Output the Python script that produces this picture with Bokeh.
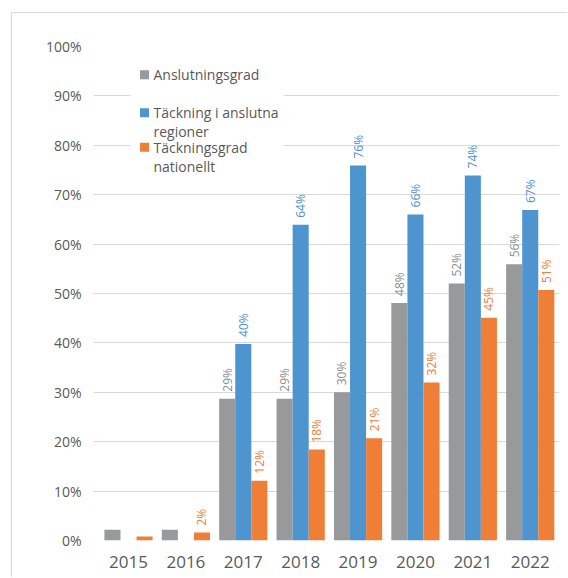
import math
from bokeh.plotting import figure
from bokeh.models import ColumnDataSource, FixedTicker, PrintfTickFormatter
from bokeh.core.properties import value
from bokeh.embed import file_html
from bokeh.resources import INLINE

# ---- data ----
years = ["2015", "2016", "2017", "2018", "2019", "2020", "2021", "2022"]
anslutningsgrad = [2.2, 2.2, 28.7, 28.7, 30.0, 48.1, 52.0, 55.9]
tackning_regioner = [None, None, 39.8, 63.9, 75.9, 66.0, 73.9, 66.9]
tackningsgrad_nat = [0.8, 1.6, 12.1, 18.4, 20.7, 32.0, 45.1, 50.7]
labels_ansl = ["", "", "29%", "29%", "30%", "48%", "52%", "56%"]
labels_reg = ["", "", "40%", "64%", "76%", "66%", "74%", "67%"]
labels_nat = ["", "2%", "12%", "18%", "21%", "32%", "45%", "51%"]
series_names = ["Anslutningsgrad", "Täckning i anslutna\nregioner", "Täckningsgrad\nnationellt"]
y_ticks = [0, 10, 20, 30, 40, 50, 60, 70, 80, 90, 100]

GRAY = "#98999b"
BLUE = "#4e95d0"
ORANGE = "#ef7f36"
GRAY_T = "#8c8c8c"
BLUE_T = "#4a8fd0"
ORANGE_T = "#ee7d33"
TXT = "#595959"
FONT = "Open Sans"

p = figure(width=556, height=565, output_backend="svg", toolbar_location=None,
           x_range=(-0.61, 7.51), y_range=(0, 100),
           min_border_left=81, min_border_right=9, min_border_top=33, min_border_bottom=38)
p.styles = {"margin-left": "11px", "margin-top": "12px",
            "border-left": "1px solid #d9d9d9", "border-top": "1px solid #d9d9d9"}
p.outline_line_color = None
p.background_fill_color = "white"
p.border_fill_color = "white"

bw = 0.28
series = [
    (anslutningsgrad, labels_ansl, -0.28, GRAY, GRAY_T),
    (tackning_regioner, labels_reg, 0.0, BLUE, BLUE_T),
    (tackningsgrad_nat, labels_nat, 0.28, ORANGE, ORANGE_T),
]
for vals, labs, off, col, tcol in series:
    xs = [i + off for i, v in enumerate(vals) if v is not None]
    tops = [v for v in vals if v is not None]
    p.vbar(x=xs, top=tops, width=bw, fill_color=col, line_color=None)
    lx = [i + off for i, (v, l) in enumerate(zip(vals, labs)) if v is not None and l]
    ly = [v for v, l in zip(vals, labs) if v is not None and l]
    lt = [l for v, l in zip(vals, labs) if v is not None and l]
    src = ColumnDataSource(dict(x=lx, y=ly, t=lt))
    p.text(x="x", y="y", text="t", source=src, angle=math.pi / 2,
           text_align="left", text_baseline="middle", y_offset=-7,
           text_color=tcol, text_font=value(FONT), text_font_size="12px")

# axes
p.xaxis.ticker = FixedTicker(ticks=list(range(len(years))))
p.xaxis.major_label_overrides = {i: y for i, y in enumerate(years)}
p.yaxis.ticker = FixedTicker(ticks=y_ticks)
p.yaxis.formatter = PrintfTickFormatter(format="%d%%")
for ax in (p.xaxis, p.yaxis):
    ax.axis_line_color = None
    ax.major_tick_line_color = None
    ax.minor_tick_line_color = None
    ax.major_label_text_color = TXT
    ax.major_label_text_font = FONT
p.xaxis.major_label_text_font_size = "17px"
p.yaxis.major_label_text_font_size = "14px"
p.xaxis.major_label_standoff = 9
p.yaxis.major_label_standoff = 6
p.xgrid.grid_line_color = None
p.ygrid.ticker = FixedTicker(ticks=y_ticks)
p.ygrid.grid_line_color = "#d9d9d9"
p.ygrid.grid_line_width = 1

# legend (manual, inside plot): white panel hides gridlines behind it
p.quad(left=[0.035], right=[2.70], bottom=[72], top=[98],
       fill_color="white", line_color=None)
sq_x = 0.279
txt_x = 0.435
row_y = [94.3, 86.6, 79.6]
line_step = 3.85
colors = [GRAY, BLUE, ORANGE]
p.scatter(x=[sq_x] * 3, y=row_y, marker="square", size=9, fill_color=colors, line_color=None)
tx, ty, tt = [], [], []
for name, y0 in zip(series_names, row_y):
    for k, line in enumerate(name.split("\n")):
        tx.append(txt_x)
        ty.append(y0 - k * line_step)
        tt.append(line)
p.text(x=tx, y=ty, text=tt, text_align="left", text_baseline="middle",
       text_color=TXT, text_font=value(FONT), text_font_size="14px")

open("out.html", "w").write(file_html(p, INLINE))
